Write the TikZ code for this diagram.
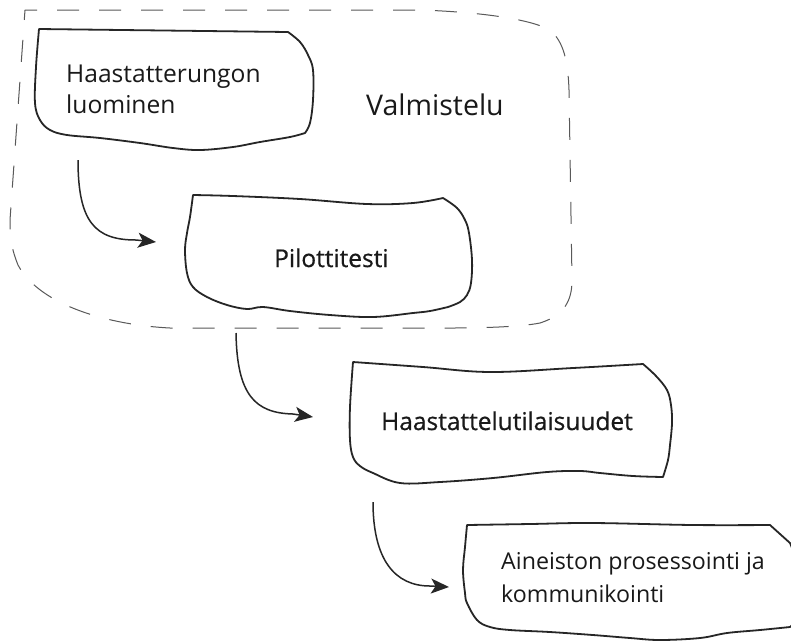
\documentclass[tikz,border=0pt]{standalone}
\usepackage{fontspec}
\setmainfont{Open Sans}
\newfontfamily\medfont[FakeBold=0.6]{Open Sans}
\usetikzlibrary{arrows.meta}

\tikzset{
  sketchbox/.style={draw=black!85, line width=1.8pt, line join=round, fill=white},
  frame/.style={draw=black!65, line width=1pt, dash pattern=on 22pt off 20pt, dash phase=10pt},
  flow/.style={draw=black!85, line width=1.5pt,
    -{Stealth[length=18pt, width=15pt, inset=4.5pt]}},
  label/.style={inner sep=0pt, anchor=base west, align=left, text=black!90},
}

\newcommand{\fsz}[2]{\fontsize{#1}{#2}\selectfont}

\begin{document}
\begin{tikzpicture}[x=1pt, y=-1pt]
\useasboundingbox[fill=white] (0,0) rectangle (791,641);

% dashed group outline
\draw[frame] (25,10) -- (420,10)
  .. controls (480,12) and (530,19) .. (550,30)
  .. controls (564,42) and (568,62) .. (569,90)
  -- (572,280)
  .. controls (572,300) and (565,315) .. (540,323)
  .. controls (520,327) and (480,328) .. (450,328)
  -- (170,328)
  .. controls (110,325) and (40,306) .. (18,265)
  .. controls (12,250) and (10,240) .. (10,220)
  -- cycle;

% box: Haastatterungon luominen
\draw[sketchbox] plot[smooth, tension=0.6] coordinates {
    (305,133) (290,137) (260,142) (233,147) (200,150) (173,148) (140,143)
    (100,138) (67,135) (50,130) (40,120) (35,103) (36,67) (39,29)}
  -- (288,32)
  -- plot[smooth, tension=0.6] coordinates {
    (288,32) (300,42) (308,55) (313,70) (313,100) (310,123) (305,133)}
  -- cycle;

% box: Pilottitesti
\draw[sketchbox] plot[smooth, tension=0.6] coordinates {
    (193,195) (233,196) (300,199) (367,204) (413,203) (443,198)}
  -- plot[smooth, tension=0.6] coordinates {
    (443,198) (457,208) (465,220) (469,233) (472,260) (471,283) (467,295) (460,302) (448,307)}
  -- plot[smooth, tension=0.6] coordinates {
    (448,307) (430,311) (413,313) (373,317) (330,315) (290,311) (263,307)
    (247,309) (227,305) (207,297) (193,287) (187,273) (185,250) (187,233)
    (190,217) (193,195)}
  -- cycle;

% box: Haastattelutilaisuudet
\draw[sketchbox] plot[smooth, tension=0.6] coordinates {
    (353,362) (423,367) (490,372) (573,368) (643,364)}
  -- plot[smooth, tension=0.6] coordinates {
    (643,364) (656,376) (667,390) (671,405) (672,423) (670,445) (668,460) (663,477)}
  -- plot[smooth, tension=0.6] coordinates {
    (663,477) (633,476) (600,473) (580,471) (547,472) (493,478) (440,482)
    (400,483) (373,473) (360,466) (353,457) (350,440) (350,407) (353,362)}
  -- cycle;

% box: Aineiston prosessointi ja kommunikointi (runs past the right edge)
\draw[sketchbox] plot[smooth, tension=0.6] coordinates {
    (467,525) (530,524) (593,523) (693,525) (770,525)}
  -- (790,543) -- (797,560) -- (797,620) -- (790,627)
  -- plot[smooth, tension=0.6] coordinates {
    (790,627) (760,630) (727,633) (700,638) (660,640) (630,638) (593,635)
    (550,632) (510,630) (490,627) (477,620) (467,603) (465,593) (463,570)
    (465,547) (467,525)}
  -- cycle;

% labels (two-line labels are placed by the baseline of their last line)
\node[label, font=\fsz{24.6}{31}] (luonti) at (66,113)
  {Haastatterungon\\luominen};
\node[label, font=\fsz{28.5}{32}] (valmistelu) at (366,115) {Valmistelu};
\node[label, font=\medfont\fsz{24.5}{30}] (pilotti) at (274,267) {Pilottitesti};
\node[label, font=\medfont\fsz{24.5}{30}] (tilaisuudet) at (381,430)
  {Haastattelutilaisuudet};
\node[label, font=\fsz{23.2}{33}] (aineisto) at (501,602)
  {Aineiston prosessointi ja\\kommunikointi};

% connectors
\coordinate (s1) at (78,160);
\coordinate (e1) at (156,242);
\coordinate (s2) at (236,333);
\coordinate (e2) at (313,417);
\coordinate (s3) at (373,502);
\coordinate (e3) at (449,587);

\draw[flow] (s1) .. controls (78,222) and (95,240) .. (136,240) -- (e1);
\draw[flow] (s2) .. controls (237,395) and (255,413) .. (293,414) -- (e2);
\draw[flow] (s3) .. controls (373,560) and (395,586) .. (430,586) -- (e3);

\end{tikzpicture}
\end{document}
